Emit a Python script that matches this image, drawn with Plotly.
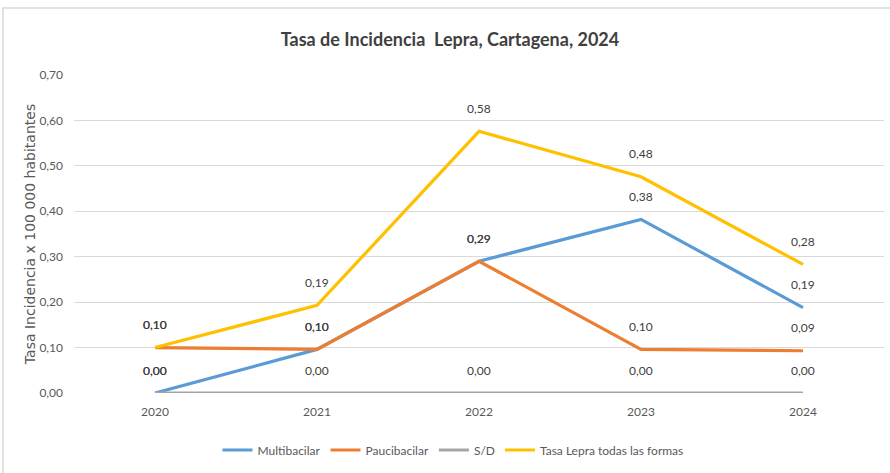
import plotly.graph_objects as go

years = ["2020", "2021", "2022", "2023", "2024"]
multibacilar = [0.00, 0.096, 0.29, 0.382, 0.188]
paucibacilar = [0.10, 0.096, 0.29, 0.096, 0.093]
sin_dato = [0.00, 0.00, 0.00, 0.00, 0.00]
total = [0.10, 0.193, 0.576, 0.476, 0.283]

series = [
    ("Multibacilar", multibacilar, "#5B9BD5"),
    ("Paucibacilar", paucibacilar, "#ED7D31"),
    ("S/D", sin_dato, "#A5A5A5"),
    ("Tasa Lepra todas las formas", total, "#FFC000"),
]

FONT = "Lato, Open Sans, sans-serif"

fig = go.Figure()
annotations = []
for name, vals, color in series:
    fig.add_trace(go.Scatter(
        x=years, y=vals, name=name, mode="lines",
        line=dict(color=color, width=3.2),
    ))
    for i, yv in enumerate(vals):
        annotations.append(dict(
            x=i, y=yv, xref="x", yref="y", text=f"{yv:.2f}".replace(".", ","),
            showarrow=False, yshift=23, yanchor="middle",
            font=dict(family=FONT, size=12, color="#404040"),
        ))

fig.update_layout(
    width=890, height=473,
    margin=dict(l=74, r=6, t=75, b=80),
    paper_bgcolor="white", plot_bgcolor="white",
    separators=",.",
    title=dict(
        text="<b>Tasa de Incidencia  Lepra, Cartagena, 2024</b>",
        x=(450 / 890), xanchor="center", y=1 - 40 / 473, yanchor="middle",
        font=dict(family=FONT, size=18, color="#404040"),
    ),
    xaxis=dict(
        type="category", range=[-0.5, 4.5], showgrid=False,
        showline=False, zeroline=False, ticks="", ticklabelstandoff=10,
        tickfont=dict(family=FONT, size=12, color="#595959"),
    ),
    yaxis=dict(
        range=[0, 0.7], dtick=0.1, tickformat=".2f",
        showgrid=True, gridcolor="#D9D9D9", gridwidth=1,
        zeroline=False, showline=False, ticks="", ticklabelstandoff=10,
        tickfont=dict(family=FONT, size=12, color="#595959"),
        title=dict(text="Tasa Incidencia x 100 000 habitantes",
                   font=dict(family="DejaVu Sans, sans-serif", size=14, color="#595959"),
                   standoff=0),
    ),
    legend=dict(
        orientation="h", x=(453 - 74) / 810, xanchor="center",
        y=(393 - 450) / 318, yanchor="middle",
        font=dict(family=FONT, size=12, color="#595959"),
        itemwidth=30,
    ),
    annotations=annotations,
    showlegend=True,
)

fig.add_shape(type="rect", xref="paper", yref="paper",
              x0=(3 - 74) / 810, x1=1.05, y0=-0.3, y1=(393 - 8) / 318,
              line=dict(color="#D9D9D9", width=1.5), fillcolor="rgba(0,0,0,0)", layer="below")

fig.write_html("out.html", config={"displayModeBar": False},
               post_script="document.body.style.margin='0';")
